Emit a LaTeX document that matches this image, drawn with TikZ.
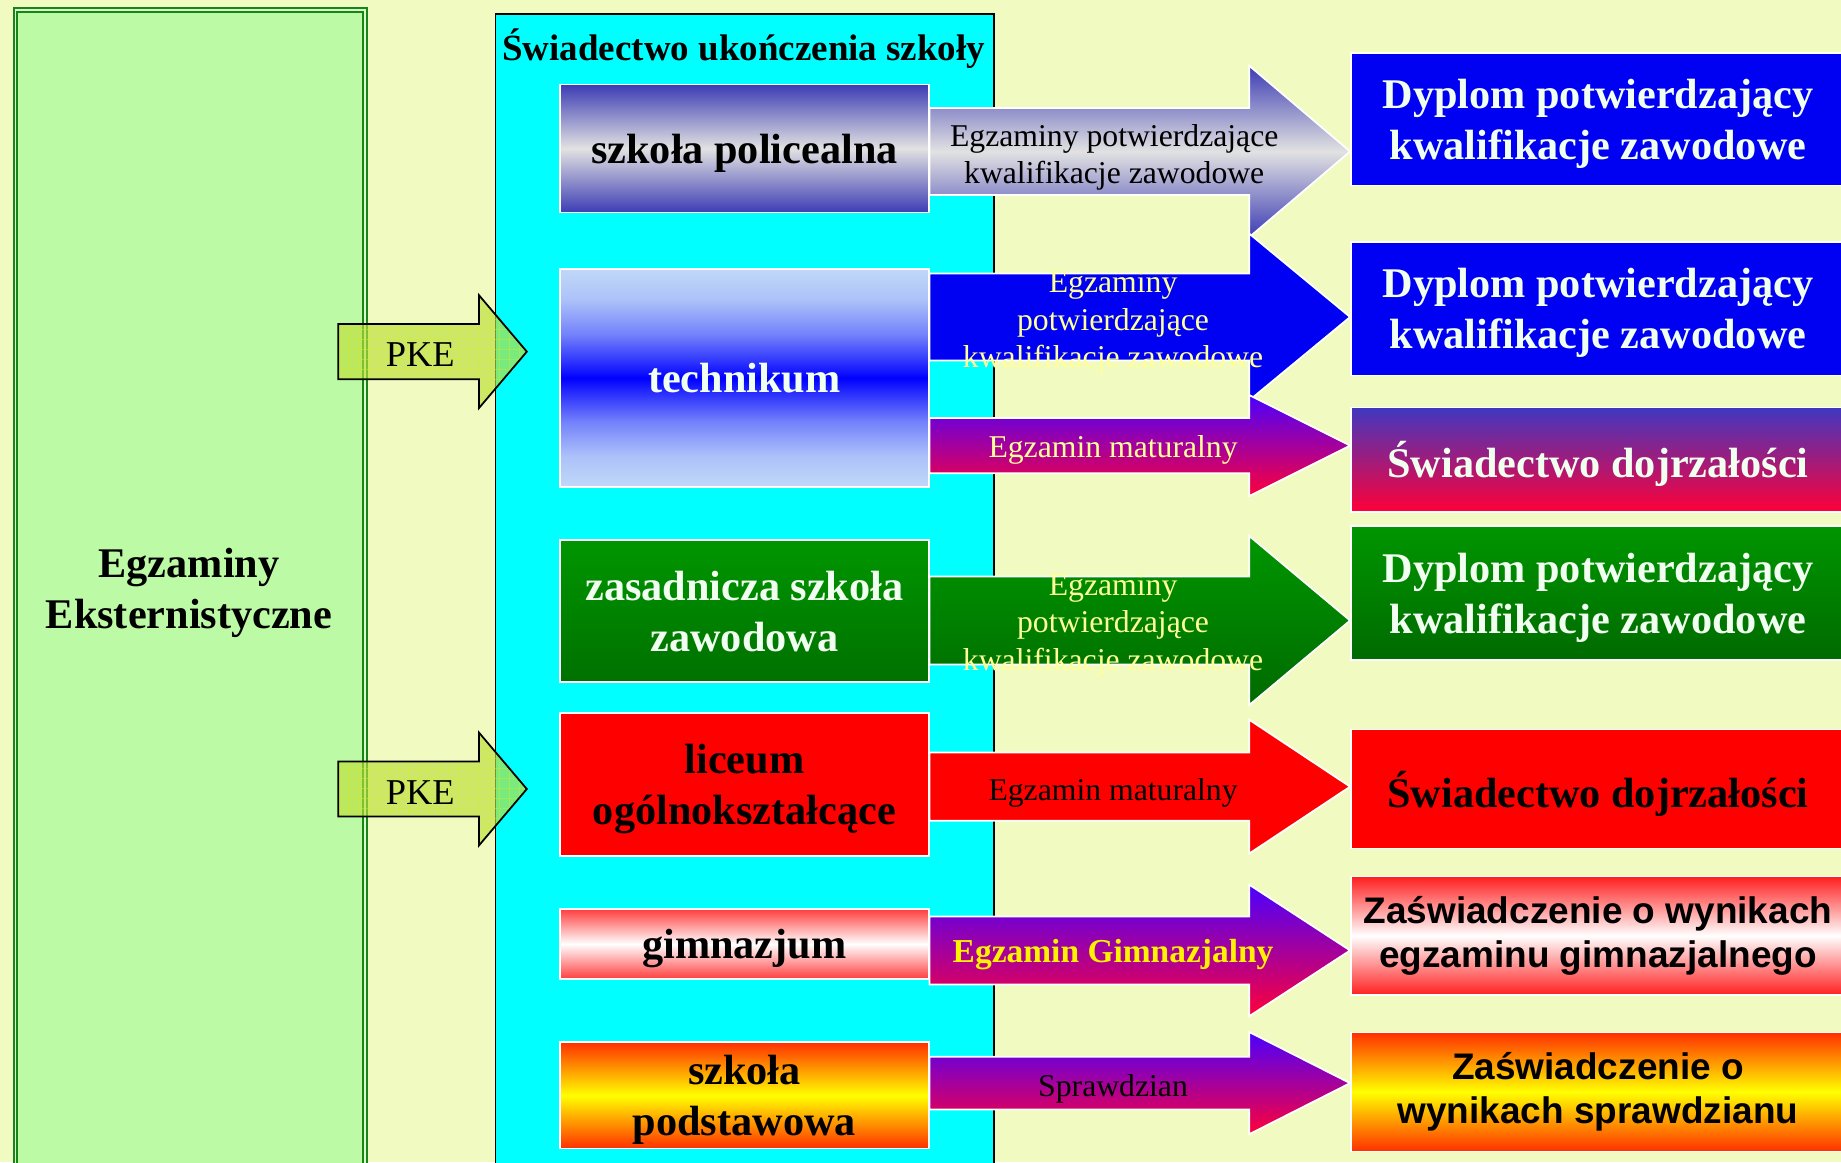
\documentclass[tikz,border=0pt]{standalone}
\usepackage{fontspec}
\setmainfont{Liberation Serif}
\setsansfont{Liberation Sans}

\definecolor{cream}{HTML}{F1FAC1}
\definecolor{paleleaf}{HTML}{BDFAA5}
\definecolor{leafline}{HTML}{168616}
\definecolor{aqua}{HTML}{00FFFF}
\definecolor{slateblue}{HTML}{3C3CB4}
\definecolor{paper}{HTML}{E2E2E2}
\definecolor{lightblue}{HTML}{C0D8F8}
\definecolor{pureblue}{HTML}{0000F2}
\definecolor{midgreen}{HTML}{009600}
\definecolor{darkgreen}{HTML}{006A00}
\definecolor{arrviolet}{HTML}{4A00FF}
\definecolor{arrred}{HTML}{FF0038}
\definecolor{palered}{HTML}{FF3C3C}
\definecolor{orangered}{HTML}{FF3000}
\definecolor{indigo}{HTML}{4038C0}
\definecolor{softwhite}{HTML}{F0FFF0}
\definecolor{softyellow}{HTML}{FFFF99}
\definecolor{pkegreen}{HTML}{BADF3A}

\newcommand\boxfont{\fontsize{36}{43.5}\selectfont\bfseries}
\newcommand\titlefont{\fontsize{31.5}{36}\selectfont\bfseries}
\newcommand\examfont{\fontsize{27}{32}\selectfont}
\newcommand\certfont{\fontsize{31.5}{37}\selectfont\sffamily\bfseries}
\newcommand\pkefont{\fontsize{31}{36}\selectfont}

\pgfdeclareverticalshading{techshade}{100bp}{color(0bp)=(lightblue); color(25bp)=(lightblue);
  color(32bp)=(lightblue!90!blue); color(40bp)=(lightblue!60!blue); color(46bp)=(lightblue!25!blue);
  color(50bp)=(blue); color(54bp)=(lightblue!25!blue); color(60bp)=(lightblue!60!blue);
  color(68bp)=(lightblue!90!blue); color(75bp)=(lightblue); color(100bp)=(lightblue)}

% block arrow from a school to its result
\newcommand\examarrow[6]{%
  \path[exam,#6] (#1.east |- 0,#3-#4) -- (1064,#3-#4) -- (1064,#3-#5)
    -- (#2.west |- 0,#3) -- (1064,#3+#5) -- (1064,#3+#4)
    -- (#1.east |- 0,#3+#4) -- cycle;}

\tikzset{
  school/.style={draw=white, line width=1.5pt, minimum width=314pt,
    minimum height=#1, inner sep=0pt, align=center, font=\boxfont,
    text depth=0pt},
  result/.style={draw=white, line width=1.2pt, minimum width=421pt,
    minimum height=#1, inner sep=0pt, align=center, font=\boxfont,
    text=softwhite, text depth=0pt},
  exam/.style={draw=white, line width=1.5pt},
  examtext/.style={align=center, font=\examfont},
  pke/.style={draw=black, line width=1.5pt, fill=pkegreen, fill opacity=0.65,
    path picture={\draw[pkegreen!60!yellow, line width=0.4pt, draw opacity=0.45, step=8.5pt]
      (path picture bounding box.south west) grid
      (path picture bounding box.north east);}},
}

\begin{document}
\begin{tikzpicture}[x=1pt, y=-1pt]
\useasboundingbox (0,0) rectangle (1568,990);
\fill[cream] (0,0) rectangle (1568,990);

% external exams
\node[draw=leafline, line width=1.7pt, double=paleleaf!55!white, double distance=1.4pt,
  fill=paleleaf, minimum width=298pt, minimum height=1000pt, anchor=north west]
  (extern) at (12.2,7.5) {};
\node[font=\boxfont, align=center] (externtext) at (161,505) {Egzaminy\\Eksternistyczne};

% schools
\node[draw=black, line width=1.5pt, fill=aqua, minimum width=424.5pt,
  minimum height=1000pt, anchor=north west] (cert) at (421.3,11.4) {};
\node[font=\titlefont] (certtitle) at (633.5,41) {Świadectwo ukończenia szkoły};

\node[school=109pt, top color=slateblue, bottom color=slateblue, middle color=paper]
  (polic) at (634,126.5) {szkoła policealna};
\node[school=186pt, shade, shading=techshade, text=softwhite] (tech) at (634,322) {technikum};
\node[school=121pt, top color=midgreen, bottom color=midgreen!75!black, text=softwhite]
  (zsz) at (634,520.5) {zasadnicza szkoła\\zawodowa};
\node[school=122pt, fill=red] (lo) at (634,668) {liceum\\ogólnokształcące};
\node[school=60pt, top color=palered, bottom color=palered, middle color=white]
  (gim) at (634,804) {gimnazjum};
\node[school=90.5pt, top color=orangered, bottom color=orangered, middle color=yellow]
  (sp) at (634,933) {szkoła\\podstawowa};

% results
\node[result=113pt, fill=pureblue] (dipA) at (1361,101.5) {Dyplom potwierdzający\\kwalifikacje zawodowe};
\node[result=114pt, fill=pureblue] (dipB) at (1361,263) {Dyplom potwierdzający\\kwalifikacje zawodowe};
\node[result=89pt, top color=indigo, bottom color=arrred] (maturaA) at (1361,391.5) {Świadectwo dojrzałości};
\node[result=114pt, top color=midgreen, bottom color=darkgreen] (dipC) at (1361,505) {Dyplom potwierdzający\\kwalifikacje zawodowe};
\node[result=101pt, fill=red, text=black] (maturaB) at (1361,672) {Świadectwo dojrzałości};
\node[result=101pt, top color=red!88!white, bottom color=red!88!white, middle color=white,
  text=black, font=\certfont, text depth=] (noteG) at (1361,797) {Zaświadczenie o wynikach\\egzaminu gimnazjalnego};
\node[result=101pt, top color=orangered, bottom color=orangered, middle color=yellow,
  text=black, font=\certfont, text depth=] (noteS) at (1361,930) {Zaświadczenie o\\wynikach sprawdzianu};

% exams
\examarrow{polic}{dipA}{129}{37}{73}{top color=slateblue, bottom color=slateblue, middle color=paper}
\examarrow{tech}{dipB}{270}{37}{71}{fill=pureblue}
\examarrow{tech}{maturaA}{379.5}{23.5}{43}{top color=arrviolet, bottom color=arrred}
\examarrow{zsz}{dipC}{528.5}{37.5}{72}{top color=midgreen, bottom color=darkgreen}
\examarrow{lo}{maturaB}{670}{29}{57}{fill=red}
\examarrow{gim}{noteG}{809.5}{29}{56}{top color=arrviolet, bottom color=arrred}
\examarrow{sp}{noteS}{922.5}{22.5}{43.5}{top color=arrviolet, bottom color=arrred}

\node[examtext] (examA) at (949,134) {Egzaminy potwierdzające\\kwalifikacje zawodowe};
\node[examtext, text=softyellow] (examB) at (948,275) {Egzaminy\\potwierdzające\\kwalifikacje zawodowe};
\node[examtext, text=softyellow] (examC) at (948,383) {Egzamin maturalny};
\node[examtext, text=softyellow] (examD) at (948,533) {Egzaminy\\potwierdzające\\kwalifikacje zawodowe};
\node[examtext] (examE) at (948,675) {Egzamin maturalny};
\node[examtext, text=yellow, font=\fontsize{28.5}{32}\selectfont\bfseries] (examF) at (948,813) {Egzamin Gimnazjalny};
\node[examtext] (examG) at (948,927) {Sprawdzian};

% PKE
\filldraw[pke] (288,276) -- (408,276) -- (408,251.5) -- (448.7,299.5)
  -- (408,347.5) -- (408,323) -- (288,323) -- cycle;
\node[font=\pkefont] (pkeA) at (358,302) {PKE};
\filldraw[pke] (288,648.5) -- (408,648.5) -- (408,624) -- (448.7,672)
  -- (408,720) -- (408,695.5) -- (288,695.5) -- cycle;
\node[font=\pkefont] (pkeB) at (358,675) {PKE};
\end{tikzpicture}
\end{document}
